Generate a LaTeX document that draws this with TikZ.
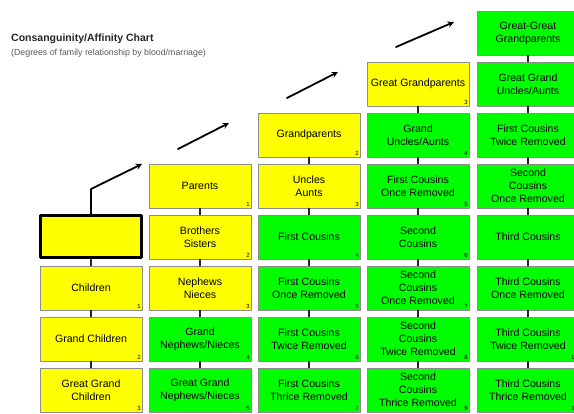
\documentclass[tikz,border=0pt]{standalone}
\usepackage{fontspec}
\setmainfont{Liberation Sans}
\definecolor{chartyellow}{RGB}{255,255,0}
\definecolor{chartgreen}{RGB}{0,255,0}
\tikzset{
  box/.style={draw=black!45, line width=0.8pt, minimum width=102pt, minimum height=44pt, inner sep=0pt, align=center},
  kin/.style={box, fill=chartyellow},
  far/.style={box, fill=chartgreen},
  me/.style={kin, draw=black, line width=3pt, minimum width=101pt, minimum height=42pt},
  degnum/.style={anchor=south east, inner sep=1.5pt, font=\fontsize{6}{6}\selectfont},
  deg/.style={label={[degnum]south east:#1}},
  link/.style={line width=1.6pt, draw=black!85},
  arrowline/.style={line width=1.8pt, draw=black}
}
\begin{document}
\begin{tikzpicture}[x=1pt, y=-1pt, font=\fontsize{10.6}{13}\selectfont, line join=round, line cap=round, >=stealth]
% Page frame
\useasboundingbox (0,0) rectangle (574,414);
\clip (0,0) rectangle (574,414);
% Heading
\node[anchor=west, inner sep=0pt, text=black!85, font=\bfseries\fontsize{10.5}{12}\selectfont] (title) at (11,39) {Consanguinity/Affinity Chart};
\node[anchor=west, inner sep=0pt, text=black!65, font=\fontsize{8.8}{10}\selectfont] (subtitle) at (11,53) {(Degrees of family relationship by blood/marriage)};
% Column 0: self and descendants
\node[me] (self) at (91,237) {};
\node[kin, deg=1] (ch) at (91,288) {Children};
\node[kin, deg=2] (gch) at (91,339) {Grand Children};
\node[kin, deg=3] (ggch) at (91,390) {Great Grand\\Children};
% Column 1
\node[kin, deg=1] (par) at (200,186) {Parents};
\node[kin, deg=2] (sib) at (200,237) {Brothers\\Sisters};
\node[kin, deg=3] (nep) at (200,288) {Nephews\\Nieces};
\node[far, deg=4] (gnep) at (200,339) {Grand\\Nephews/Nieces};
\node[far, deg=5] (ggnep) at (200,390) {Great Grand\\Nephews/Nieces};
% Column 2
\node[kin, deg=2] (gp) at (309,135) {Grandparents};
\node[kin, deg=3] (ua) at (309,186) {Uncles\\Aunts};
\node[far, deg=4] (fc) at (309,237) {First Cousins};
\node[far, deg=5] (fcone) at (309,288) {First Cousins\\Once Removed};
\node[far, deg=6] (fctwo) at (309,339) {First Cousins\\Twice Removed};
\node[far, deg=7] (fcthree) at (309,390) {First Cousins\\Thrice Removed};
% Column 3
\node[kin, deg=3] (ggp) at (418,84) {Great Grandparents};
\node[far, deg=4] (gua) at (418,135) {Grand\\Uncles/Aunts};
\node[far, deg=5] (fconeup) at (418,186) {First Cousins\\Once Removed};
\node[far, deg=6] (sc) at (418,237) {Second\\Cousins};
\node[far, deg=7] (scone) at (418,288) {Second\\Cousins\\Once Removed};
\node[far, deg=8] (sctwo) at (418,339) {Second\\Cousins\\Twice Removed};
\node[far, deg=9] (scthree) at (418,390) {Second\\Cousins\\Thrice Removed};
% Column 4 (runs off the right edge)
\node[far, deg=4] (gggp) at (528,33) {Great-Great\\Grandparents};
\node[far, deg=5] (ggua) at (528,84) {Great Grand\\Uncles/Aunts};
\node[far, deg=6] (fctwoup) at (528,135) {First Cousins\\Twice Removed};
\node[far, deg=7] (sconeup) at (528,186) {Second\\Cousins\\Once Removed};
\node[far, deg=8] (tc) at (528,237) {Third Cousins};
\node[far, deg=9] (tcone) at (528,288) {Third Cousins\\Once Removed};
\node[far, deg=10] (tctwo) at (528,339) {Third Cousins\\Twice Removed};
\node[far, deg=11] (tcthree) at (528,390) {Third Cousins\\Thrice Removed};
% Short links inside each column
\draw[link] (self) -- (ch) (ch) -- (gch) (gch) -- (ggch);
\draw[link] (par) -- (sib) (sib) -- (nep) (nep) -- (gnep) (gnep) -- (ggnep);
\draw[link] (gp) -- (ua) (ua) -- (fc) (fc) -- (fcone) (fcone) -- (fctwo) (fctwo) -- (fcthree);
\draw[link] (ggp) -- (gua) (gua) -- (fconeup) (fconeup) -- (sc) (sc) -- (scone) (scone) -- (sctwo) (sctwo) -- (scthree);
\draw[link] (gggp) -- (ggua) (ggua) -- (fctwoup) (fctwoup) -- (sconeup) (sconeup) -- (tc) (tc) -- (tcone) (tcone) -- (tctwo) (tctwo) -- (tcthree);
% Arrows climbing the generations
\coordinate (bend) at (91,189);
\coordinate (tipa) at (142,164);
\coordinate (tailb) at (178,149);
\coordinate (tipb) at (229,123);
\coordinate (tailc) at (287,98);
\coordinate (tipc) at (338,72);
\coordinate (taild) at (396,47);
\coordinate (tipd) at (454,22);
\draw[arrowline, ->] (self) -- (bend) -- (tipa);
\draw[arrowline, ->] (tailb) -- (tipb);
\draw[arrowline, ->] (tailc) -- (tipc);
\draw[arrowline, ->] (taild) -- (tipd);
\end{tikzpicture}
\end{document}
